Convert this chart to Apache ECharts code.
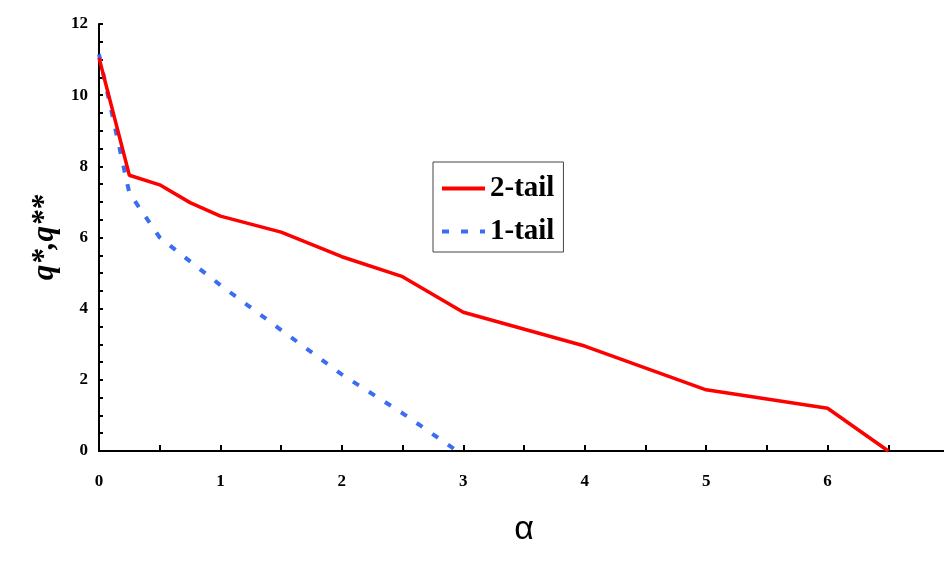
<!DOCTYPE html>
<html>
<head>
<meta charset="utf-8">
<script src="https://cdn.jsdelivr.net/npm/echarts@6/dist/echarts.min.js"></script>
<style>
  html, body { margin: 0; padding: 0; background: #fff; }
  #chart { width: 944px; height: 566px; }
</style>
</head>
<body>
<div id="chart"></div>
<script>
// data
var alphaTwoTail = [0, 0.25, 0.5, 0.75, 1, 1.5, 2, 2.5, 3, 4, 5, 6, 6.5];
var qTwoTail = [11.05, 7.75, 7.48, 6.98, 6.6, 6.15, 5.46, 4.9, 3.9, 2.95, 1.72, 1.2, 0];
var alphaOneTail = [0, 0.25, 0.5, 0.75, 1, 1.5, 2, 2.5, 2.95];
var qOneTail = [11.15, 7.25, 6.0, 5.33, 4.66, 3.4, 2.15, 1.06, 0];
var seriesNames = ["2-tail", "1-tail"];

function pairs(xs, ys) {
  return xs.map(function (x, i) { return [x, ys[i]]; });
}

var serif = "'Liberation Serif', 'DejaVu Serif', serif";

var myChart = echarts.init(document.getElementById("chart"));

var option = {
  animation: false,
  backgroundColor: "#fff",
  grid: {
    left: 99,
    right: -5, // axis runs past the right edge, like the original
    top: 24,
    bottom: 115,
    outerBoundsMode: "none",
    containLabel: false
  },
  legend: {
    orient: "vertical",
    left: 433,
    top: 162,
    padding: [12, 9, 6, 7],
    itemGap: 14,
    itemWidth: 43,
    itemHeight: 14,
    borderColor: "#444",
    borderWidth: 1,
    data: seriesNames,
    itemStyle: { opacity: 0 },
    lineStyle: { width: 4 },
    textStyle: {
      fontFamily: serif,
      fontWeight: "bold",
      fontSize: 29,
      color: "#000"
    }
  },
  xAxis: {
    type: "value",
    min: 0,
    max: 7,
    interval: 0.5,
    name: "α",
    nameLocation: "middle",
    nameGap: 62,
    nameTextStyle: {
      fontFamily: "'Liberation Sans', Arial, sans-serif",
      fontSize: 34,
      color: "#000"
    },
    axisLine: { show: true, onZero: false, lineStyle: { color: "#000", width: 2 } },
    axisTick: { show: true, inside: true, length: 6, lineStyle: { color: "#000", width: 2 } },
    splitLine: { show: false },
    axisLabel: {
      margin: 22,
      fontFamily: serif,
      fontWeight: "bold",
      fontSize: 17,
      color: "#000",
      formatter: function (v) { return v % 1 === 0 && v < 7 ? String(v) : ""; }
    }
  },
  yAxis: {
    type: "value",
    min: 0,
    max: 12,
    interval: 0.5,
    name: "q*,q**",
    nameLocation: "middle",
    nameRotate: 90,
    nameGap: 38,
    nameTextStyle: {
      fontFamily: serif,
      fontWeight: "bold",
      fontStyle: "italic",
      fontSize: 31,
      color: "#000"
    },
    axisLine: { show: true, onZero: false, lineStyle: { color: "#000", width: 2 } },
    axisTick: { show: true, inside: true, length: 4, lineStyle: { color: "#000", width: 2 } },
    splitLine: { show: false },
    axisLabel: {
      margin: 11,
      fontFamily: serif,
      fontWeight: "bold",
      fontSize: 17,
      color: "#000",
      formatter: function (v) { return v % 2 === 0 ? String(v) : ""; }
    }
  },
  series: [
    {
      name: seriesNames[0],
      type: "line",
      symbol: "none",
      data: pairs(alphaTwoTail, qTwoTail),
      itemStyle: { color: "#ff0000" },
      lineStyle: { color: "#ff0000", width: 3.5 },
      z: 3
    },
    {
      name: seriesNames[1],
      type: "line",
      symbol: "none",
      data: pairs(alphaOneTail, qOneTail),
      itemStyle: { color: "#3a6cf4" },
      lineStyle: { color: "#3a6cf4", width: 4, type: [7, 12] },
      z: 2
    }
  ]
};

myChart.setOption(option);
</script>
</body>
</html>
